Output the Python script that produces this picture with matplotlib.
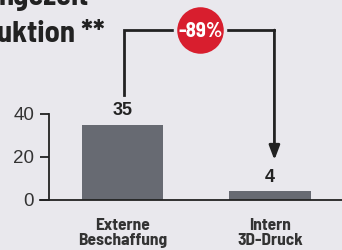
import matplotlib
matplotlib.use("Agg")
import matplotlib.pyplot as plt

# data
categories = ["Externe\nBeschaffung", "Intern\n3D-Druck"]
values = [35, 4]
yticks = [0, 20, 40]
change_label = "-89%"

bg = "#e9e8ed"
bar_color = "#676a72"
dark = "#222222"
red = "#d81e2e"

cond = ['Barlow Semi Condensed', 'DejaVu Sans']
arial = ['Liberation Sans', 'DejaVu Sans']
plt.rcParams['font.family'] = cond

fig = plt.figure(figsize=(3.42, 2.5), dpi=100, facecolor=bg)
ax = fig.add_axes([0, 0.2, 1, 0.8])
ax.set_facecolor(bg)

x = [0, 1]
ax.bar(x, values, width=0.55, color=bar_color, zorder=2)
ax.set_xlim(-0.83, 1.488)
ax.set_ylim(0, 93)

for xi, v in zip(x, values):
    ax.text(xi, v + 2.6, str(v), ha="center", va="bottom", fontsize=13,
            fontweight="bold", color=dark, family=arial)

# spines
for s in ["top", "right"]:
    ax.spines[s].set_visible(False)
ax.spines["left"].set_position(("data", -0.5))
ax.spines["left"].set_bounds(0, 40)
ax.spines["bottom"].set_bounds(-0.56, 1.488)
for s in ["left", "bottom"]:
    ax.spines[s].set_linewidth(1.3)
    ax.spines[s].set_color(dark)
ax.set_yticks(yticks)
ax.set_yticklabels([str(t) for t in yticks], family=arial)
ax.tick_params(axis="y", length=6.5, width=1.3, color=dark, labelsize=13.5,
               labelcolor="#333333", pad=4)
ax.set_xticks(x)
ax.set_xticklabels(categories, fontsize=12.5, fontweight="bold", color="#333333",
                   linespacing=1.0)
ax.tick_params(axis="x", length=0, pad=13)

# reduction arrow
top = 79
ax.plot([0.01, 0.01, 1.03], [values[0] + 14, top, top], color=dark, lw=2,
        clip_on=False, solid_joinstyle="miter", zorder=3)
ax.annotate("", xy=(1.03, values[1] + 14.6), xytext=(1.03, top),
            arrowprops=dict(arrowstyle="-|>,head_length=0.85,head_width=0.32",
                            color=dark, lw=2, shrinkA=0, shrinkB=0),
            annotation_clip=False, zorder=3)
cx = 0.527
ax.plot(cx, top, "o", ms=36, mfc=red, mec=bg, mew=2.5, clip_on=False, zorder=4)
ax.text(cx, top - 0.5, change_label, ha="center", va="center", color="white",
        fontsize=15, fontweight="bold", zorder=5)

# title (cropped at the top left, as in the reference)
fig.text(-0.003, 1.0 - 5 / 250, "ngezeit", ha="left", va="baseline",
         fontsize=22, fontweight="bold", color=dark)
fig.text(-0.01, 1.0 - 42 / 250, "uktion **", ha="left", va="baseline",
         fontsize=22, fontweight="bold", color=dark)

fig.savefig("out.png", dpi=100, facecolor=bg)
